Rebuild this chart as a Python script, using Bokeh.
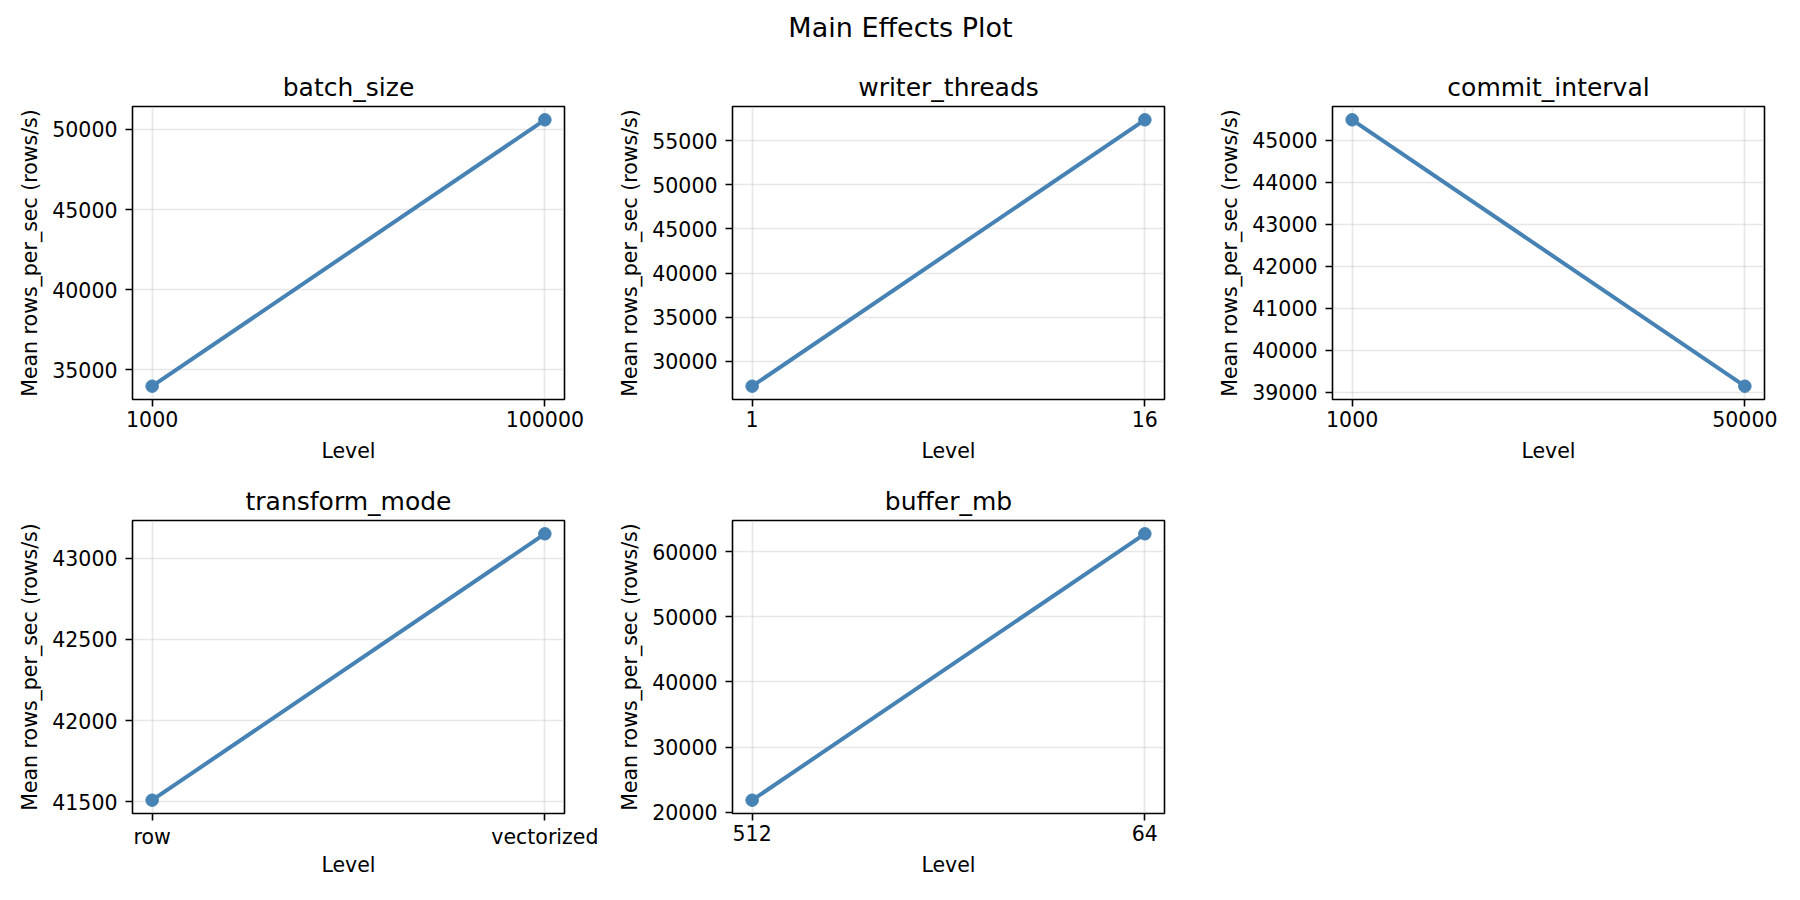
from bokeh.plotting import figure
from bokeh.layouts import column, gridplot
from bokeh.models import Range1d, FixedTicker, SingleIntervalTicker, NumeralTickFormatter, Label
from bokeh.embed import file_html
from bokeh.resources import INLINE

# ---- data ----
suptitle = "Main Effects Plot"
factors = ["batch_size", "writer_threads", "commit_interval", "transform_mode", "buffer_mb"]

batch_size_levels = ["1000", "100000"]
batch_size_means = [33980, 50600]

writer_threads_levels = ["1", "16"]
writer_threads_means = [27200, 57350]

commit_interval_levels = ["1000", "50000"]
commit_interval_means = [45490, 39150]

transform_mode_levels = ["row", "vectorized"]
transform_mode_means = [41510, 43150]

buffer_mb_levels = ["512", "64"]
buffer_mb_means = [21850, 62720]

y_tick_steps = [5000, 5000, 1000, 500, 10000]

x_label = "Level"
y_label = "Mean rows_per_sec (rows/s)"

levels_all = [batch_size_levels, writer_threads_levels, commit_interval_levels,
              transform_mode_levels, buffer_mb_levels]
means_all = [batch_size_means, writer_threads_means, commit_interval_means,
             transform_mode_means, buffer_mb_means]

FONT = "DejaVu Sans"
COLOR = "#4682b4"
FW, FH = 432, 293
BL, BR, BT = 132, 36, 48


def make_panel(name, levels, means, step, bottom_border, xlabel_standoff):
    x = list(range(len(levels)))
    lo, hi = min(means), max(means)
    pad = 0.05 * (hi - lo)
    xpad = 0.05 * (len(levels) - 1)
    p = figure(width=BL + FW + BR, height=BT + FH + bottom_border,
               x_range=Range1d(-xpad, len(levels) - 1 + xpad),
               y_range=Range1d(lo - pad, hi + pad),
               output_backend="svg", toolbar_location=None,
               min_border_left=BL, min_border_right=BR,
               min_border_top=BT, min_border_bottom=bottom_border,
               title=name)
    p.title.align = "center"
    p.title.text_font = FONT
    p.title.text_font_size = "25px"
    p.title.text_font_style = "normal"
    p.title.text_color = "black"
    p.title.standoff = 10

    p.xaxis.ticker = FixedTicker(ticks=x)
    p.xaxis.major_label_overrides = {i: lv for i, lv in enumerate(levels)}
    p.yaxis.ticker = SingleIntervalTicker(interval=step, num_minor_ticks=0)
    p.yaxis.formatter = NumeralTickFormatter(format="0")
    p.xaxis.axis_label = x_label
    p.yaxis.axis_label = y_label

    for ax in p.axis:
        ax.axis_line_color = None
        ax.major_tick_out = 7
        ax.major_tick_in = 0
        ax.major_tick_line_width = 1.6
        ax.major_tick_line_color = "black"
        ax.minor_tick_line_color = None
        ax.major_label_text_font = FONT
        ax.major_label_text_font_size = "20.5px"
        ax.major_label_text_color = "black"
        ax.axis_label_text_font = FONT
        ax.axis_label_text_font_size = "20.5px"
        ax.axis_label_text_font_style = "normal"
        ax.axis_label_text_color = "black"
    p.xaxis.major_label_standoff = 4
    p.xaxis.axis_label_standoff = xlabel_standoff
    p.yaxis.major_label_standoff = 8
    p.yaxis.axis_label_standoff = 7

    p.grid.grid_line_color = "#b0b0b0"
    p.grid.grid_line_alpha = 0.3
    p.grid.grid_line_width = 1.6

    p.outline_line_color = "black"
    p.outline_line_width = 1.6
    p.outline_line_alpha = 1.0

    p.line(x, means, line_color=COLOR, line_width=4)
    p.scatter(x, means, size=12.5, fill_color=COLOR, line_color=COLOR)
    return p


panels = []
for i, name in enumerate(factors):
    bb = 73 if i < 3 else 80
    so = 1 if factors[i] == "transform_mode" else 9
    panels.append(make_panel(name, levels_all[i], means_all[i], y_tick_steps[i], bb, so))

head = figure(width=1800, height=58, x_range=Range1d(0, 1), y_range=Range1d(0, 58),
              x_axis_type=None, y_axis_type=None, min_border=0,
              outline_line_color=None, output_backend="svg", toolbar_location=None)
head.grid.visible = False
head.add_layout(Label(x=0.5, y=30.6, text=suptitle, text_align="center",
                      text_baseline="alphabetic", text_font=FONT,
                      text_font_size="27px", text_color="black"))

grid = gridplot([[panels[0], panels[1], panels[2]], [panels[3], panels[4], None]],
                toolbar_location=None)
layout = column(head, grid)

open("out.html", "w").write(file_html(layout, INLINE))
